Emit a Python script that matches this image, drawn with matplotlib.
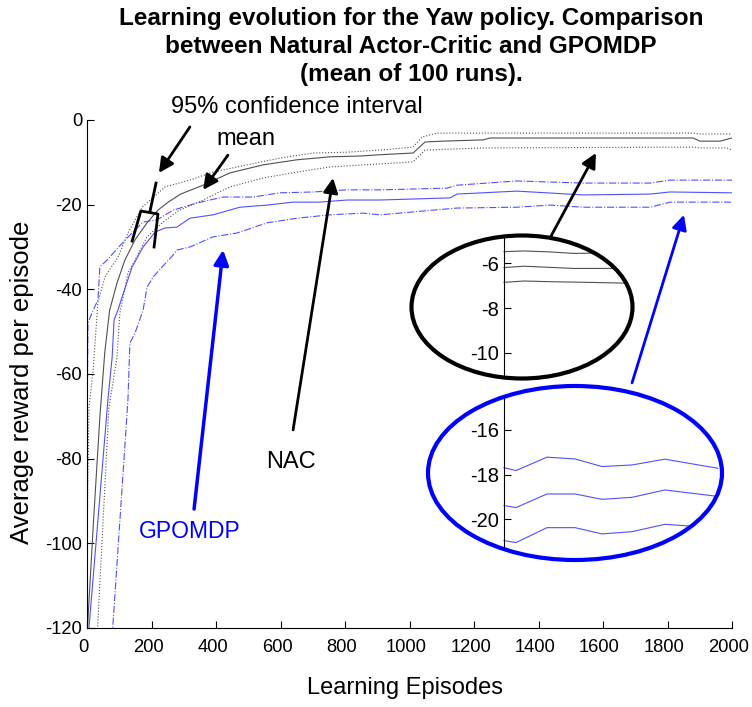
import matplotlib
matplotlib.use("Agg")
import matplotlib.pyplot as plt
import matplotlib.transforms as mtransforms
from matplotlib.patches import Ellipse

plt.rcParams['font.family'] = ['Liberation Sans', 'DejaVu Sans']
plt.rcParams['axes.unicode_minus'] = False

# NAC (Natural Actor-Critic)
nac_x = [0, 20, 40, 55, 70, 93, 118, 149, 186, 220, 250, 290, 360, 443, 546, 651, 753, 850, 909,
         1011, 1048, 1100, 1228, 1250, 1879, 1901, 1963, 2000]
nac_mean = [-122, -95, -70, -55, -45, -38.5, -33, -28.3, -24.3, -21.3, -19.5, -17.5, -15.4, -12.5, -10.6,
            -9.4, -8.7, -8.5, -8.2, -7.8, -5.2, -5.0, -4.7, -4.25, -4.25, -5.0, -5.0, -4.25]
nac_up_x = [0, 6, 19, 34, 56, 96, 127, 171, 242, 319, 391, 496, 598, 701, 806, 909, 1011, 1039, 1085,
            1879, 1901, 2000]
nac_up = [-100, -68, -59, -43, -37, -32.4, -26.7, -20.6, -15.8, -14.2, -12.3, -10.6, -9.0, -7.8, -7.6,
          -7.1, -6.4, -4.0, -3.1, -3.1, -3.3, -3.3]
nac_lo_x = [32, 68, 93, 102, 127, 149, 186, 233, 282, 360, 443, 546, 651, 753, 856, 1011, 1048, 1228,
            1879, 1901, 1984, 2000]
nac_lo = [-121, -68, -56, -45.6, -36.1, -33.1, -27.6, -24.3, -21.5, -18.9, -15.8, -13.7, -12.3, -11.1,
          -10.6, -9.9, -7.1, -6.6, -6.4, -6.6, -6.6, -7.1]

# GPOMDP
gp_x = [5, 65, 78, 84, 96, 108, 140, 174, 211, 242, 279, 319, 391, 474, 558, 639, 722, 806, 909, 1126,
        1147, 1333, 1538, 1746, 1808, 2000]
gp_mean = [-121, -66, -56, -47.2, -44.9, -42, -34.7, -30.0, -26.5, -25.5, -25.3, -23.2, -22.4, -20.6,
           -20.1, -19.4, -19.4, -18.9, -18.9, -18.4, -17.5, -16.8, -17.7, -17.5, -17.0, -17.2]
gp_up_x = [0, 3, 15, 34, 40, 62, 96, 133, 174, 217, 267, 341, 422, 515, 598, 701, 806, 909, 1116, 1147,
           1333, 1538, 1746, 1808, 2000]
gp_up = [-75, -48, -45.6, -42.5, -34.7, -33.1, -30.2, -27.2, -24.1, -23.6, -21.3, -19.6, -18.2, -18.2,
         -17.2, -17.0, -16.5, -16.5, -16.1, -15.4, -14.4, -14.9, -14.9, -14.2, -14.2]
gp_lo_x = [78, 127, 133, 149, 174, 186, 205, 233, 267, 279, 319, 391, 465, 558, 651, 753, 856, 909, 1147,
           1333, 1436, 1538, 1746, 1808, 2000]
gp_lo = [-122, -66, -52.7, -50.3, -44.9, -39.5, -37.1, -34.7, -31.9, -30.7, -30.0, -27.6, -26.7, -24.3,
         -23.2, -22.4, -22.0, -22.4, -20.8, -20.6, -20.1, -20.6, -20.6, -19.4, -19.4]

# zoomed views in the two ellipses
nac_zoom_x = [0, 20, 45, 70, 95, 125]
nac_zoom_up = [-5.48, -5.45, -5.49, -5.56, -5.54, -5.5]
nac_zoom_mean = [-6.19, -6.13, -6.18, -6.23, -6.23, -6.22]
nac_zoom_lo = [-6.85, -6.79, -6.82, -6.84, -6.86, -6.89]
gp_zoom_x = [0, 12, 43, 71, 98, 128, 161, 214]
gp_zoom_up = [-17.69, -17.82, -17.22, -17.30, -17.64, -17.57, -17.31, -17.72]
gp_zoom_mean = [-19.39, -19.48, -18.87, -18.87, -19.11, -19.02, -18.69, -18.98]
gp_zoom_lo = [-20.96, -21.05, -20.38, -20.38, -20.66, -20.56, -20.23, -20.4]

W, H = 752, 707
gray = '#505050'
blue = '#5050ff'
fs = 13.2
fs_txt = 17

fig = plt.figure(figsize=(W/100, H/100), dpi=100)
ax = fig.add_axes([87/W, 1-628/H, 645/W, 508/H])

ax.plot(nac_x, nac_mean, color=gray, lw=0.8)
ax.plot(nac_up_x, nac_up, color=gray, lw=0.8, ls=':')
ax.plot(nac_lo_x, nac_lo, color=gray, lw=0.8, ls=':')
ax.plot(gp_x, gp_mean, color=blue, lw=0.8)
ax.plot(gp_up_x, gp_up, color=blue, lw=0.8, ls='-.')
ax.plot(gp_lo_x, gp_lo, color=blue, lw=0.8, ls='-.')

ax.set_xlim(0, 2000)
ax.set_ylim(-120, 0)
ax.set_xticks(range(0, 2001, 200))
ax.set_yticks(range(-120, 1, 20))
ax.tick_params(direction='in', length=5, width=0.8, labelsize=fs)
ax.tick_params(axis='x', pad=8)
ax.spines['top'].set_visible(False)
ax.spines['right'].set_visible(False)
# matlab draws the x labels a little left of their ticks
shift = mtransforms.ScaledTranslation(-3.5/100, 0, fig.dpi_scale_trans)
for lab in ax.get_xticklabels():
    lab.set_transform(lab.get_transform() + shift)

fig.text(0.5465, 1-46.5/H, "Learning evolution for the Yaw policy. Comparison\nbetween Natural Actor-Critic and GPOMDP\n(mean of 100 runs).",
         ha='center', va='center', fontsize=17.5, fontweight='bold', linespacing=1.26)
fig.text(405/W, 1-688/H, "Learning Episodes", ha='center', va='center', fontsize=17)
fig.text(22/W, 1-382/H, "Average reward per episode", ha='center', va='center', rotation=90, fontsize=18.5)

def arrow(head, tail, color='k', lw=2):
    ax.annotate('', xy=head, xytext=tail, annotation_clip=False,
                arrowprops=dict(arrowstyle='-|>', color=color, lw=lw, mutation_scale=22,
                                shrinkA=0, shrinkB=0))

ax.text(651, 3.1, "95% confidence interval", ha='center', va='center', fontsize=fs_txt, clip_on=False)
arrow((223, -12.5), (319, -1.65))
ax.text(493, -4.5, "mean", ha='center', va='center', fontsize=fs_txt)
arrow((360, -16.5), (437, -8.3))
ax.text(633, -80.8, "NAC", ha='center', va='center', fontsize=fs_txt)
arrow((763, -13.7), (639, -73.2))
arrow((1578, -7.8), (1439, -27.4))
ax.text(319, -97.1, "GPOMDP", ha='center', va='center', fontsize=fs_txt - 0.5, color='#0000ff')
arrow((422, -30.7), (332, -91.9), color='#0000ff', lw=2.5)
arrow((1851, -22.4), (1690, -62.1), color='#0000ff', lw=2)

# bracket on the confidence lines
ax.plot([214, 195], [-14.9, -21.7], color='k', lw=2)
ax.plot([140, 167, 220, 208], [-28.6, -21.5, -22.2, -30.0], color='k', lw=2)


def zoom_ellipse(box, xlim, ylim, yticks, xs, ys, line_color, edge_color):
    ins = fig.add_axes([box[0]/W, 1-box[3]/H, (box[2]-box[0])/W, (box[3]-box[1])/H])
    ins.set_xlim(*xlim)
    ins.set_ylim(*ylim)
    ins.patch.set_visible(False)
    bg = Ellipse((0.5, 0.5), 1, 1, transform=ins.transAxes, facecolor='white', edgecolor='none', zorder=0)
    ins.add_patch(bg)
    for y in ys:
        ln, = ins.plot(xs, y, color=line_color, lw=0.8)
        ln.set_clip_path(bg)
    ins.add_patch(Ellipse((0.5, 0.5), 1, 1, transform=ins.transAxes, fill=False,
                          edgecolor=edge_color, lw=3, clip_on=False, zorder=5))
    for s in ['top', 'right', 'bottom']:
        ins.spines[s].set_visible(False)
    ins.spines['left'].set_position(('data', 0))
    ins.spines['left'].set_clip_path(bg)
    ins.set_xticks([])
    ins.set_yticks(yticks)
    ins.tick_params(direction='in', length=5, width=0.8, labelsize=14.5)
    return ins

zoom_ellipse((411.5, 235.5, 632.5, 378.5), (-92.5, 128.5), (-11.14, -4.76), [-10, -8, -6],
             nac_zoom_x, [nac_zoom_up, nac_zoom_mean, nac_zoom_lo], gray, 'k')
zoom_ellipse((428, 386, 722, 560), (-76, 218), (-21.83, -14.03), [-20, -18, -16],
             gp_zoom_x, [gp_zoom_up, gp_zoom_mean, gp_zoom_lo], blue, '#0000ff')

fig.savefig('out.png', dpi=100)
